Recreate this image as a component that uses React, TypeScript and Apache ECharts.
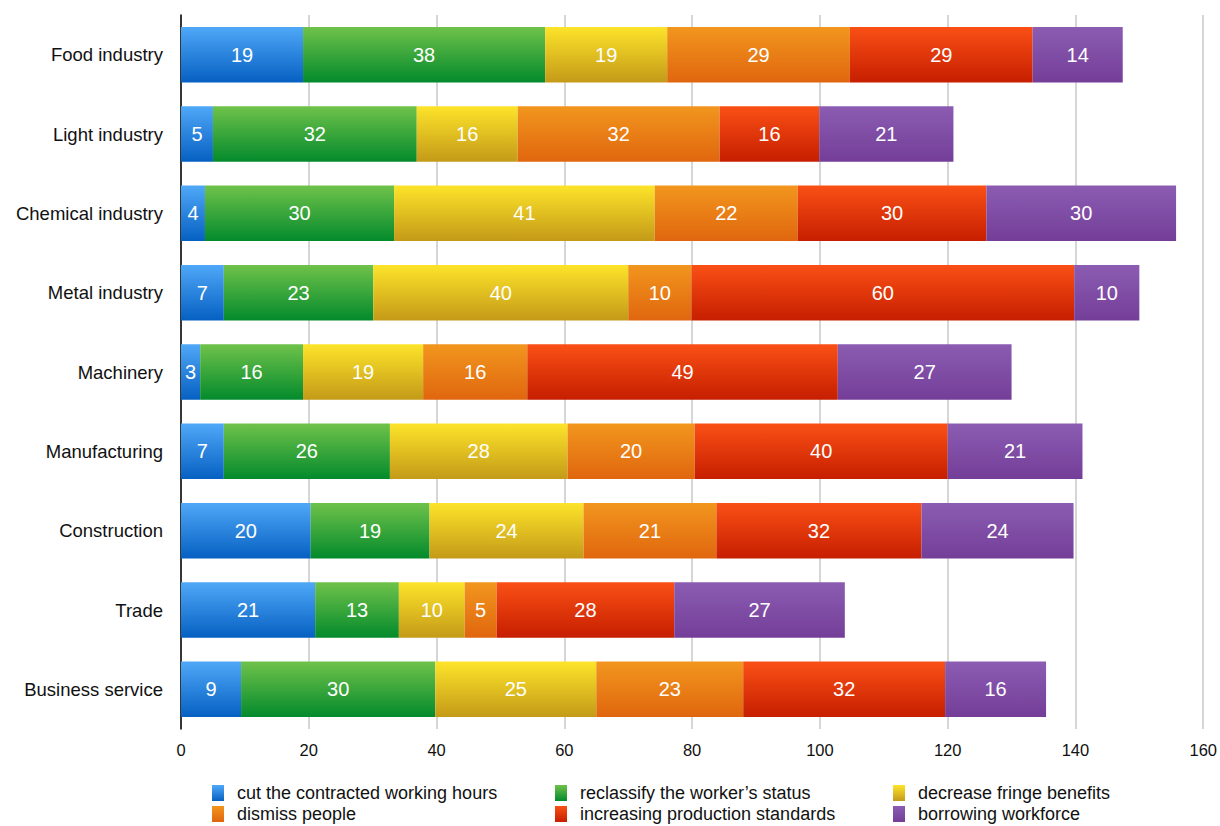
import React, { useEffect, useRef } from "react";
import * as echarts from "echarts";

const categories = [
  "Food industry",
  "Light industry",
  "Chemical industry",
  "Metal industry",
  "Machinery",
  "Manufacturing",
  "Construction",
  "Trade",
  "Business service",
];

const seriesNames = [
  "cut the contracted working hours",
  "reclassify the worker’s status",
  "decrease fringe benefits",
  "dismiss people",
  "increasing production standards",
  "borrowing workforce",
];

// values; labels show them rounded
const cutHours = [19.1, 5.0, 3.75, 6.7, 3.0, 6.7, 20.3, 21.0, 9.4];
const reclassify = [37.9, 31.9, 29.6, 23.4, 16.1, 26.0, 18.6, 13.1, 30.4];
const fringe = [19.1, 15.8, 40.8, 39.9, 18.8, 27.8, 24.1, 10.3, 25.2];
const dismiss = [28.6, 31.6, 22.4, 9.9, 16.3, 19.9, 20.8, 5.0, 23.0];
const standards = [28.6, 15.6, 29.5, 59.9, 48.6, 39.6, 32.1, 27.8, 31.6];
const borrowing = [14.1, 21.0, 29.7, 10.2, 27.2, 21.1, 23.8, 26.7, 15.8];

const seriesValues = [cutHours, reclassify, fringe, dismiss, standards, borrowing];

const gradients: [string, string][] = [
  ["#4fa8f7", "#0660c2"],
  ["#6fc24a", "#038a2c"],
  ["#fde42a", "#c49a18"],
  ["#f2961e", "#e0660e"],
  ["#fa5016", "#c61e00"],
  ["#8b5cb2", "#743e98"],
];

const legendPos = [
  { left: 212, top: 784 },
  { left: 555, top: 784 },
  { left: 893, top: 784 },
  { left: 212, top: 805 },
  { left: 555, top: 805 },
  { left: 893, top: 805 },
];

export default function App() {
  const ref = useRef<HTMLDivElement>(null);
  useEffect(() => {
    if (!ref.current) return;
    const chart = echarts.init(ref.current, undefined, { renderer: "svg" });
    const font = "'Liberation Sans', Arial, Helvetica, sans-serif";
    chart.setOption({
      animation: false,
      textStyle: { fontFamily: font },
      grid: { left: 181, right: 16, top: 15, bottom: 97 },
      legend: seriesNames.map((n, i) => ({
        data: [n],
        left: legendPos[i].left,
        top: legendPos[i].top,
        padding: 0,
        icon: "rect",
        itemWidth: 12,
        itemHeight: 16,
        selectedMode: false,
        textStyle: { fontSize: 18, color: "#111", fontFamily: font, padding: [0, 0, 0, 8] },
      })),
      xAxis: {
        type: "value",
        min: 0,
        max: 160,
        interval: 20,
        axisLine: { show: false },
        axisTick: { show: false },
        axisLabel: { fontSize: 16.5, color: "#111", margin: 12 },
        splitLine: { show: true, lineStyle: { color: "#c8c8c8", width: 1.5 } },
      },
      yAxis: {
        type: "category",
        data: categories,
        inverse: true,
        axisLine: { show: true, lineStyle: { color: "#000", width: 1.5 } },
        axisTick: { show: false },
        axisLabel: { fontSize: 18.5, color: "#111", margin: 18 },
      },
      series: seriesNames.map((n, i) => ({
        name: n,
        type: "bar",
        stack: "total",
        barCategoryGap: "30%",
        data: seriesValues[i],
        itemStyle: {
          color: new echarts.graphic.LinearGradient(0, 0, 0, 1, [
            { offset: 0, color: gradients[i][0] },
            { offset: 1, color: gradients[i][1] },
          ]),
        },
        label: {
          show: true,
          position: "inside",
          color: "#fff",
          fontSize: 20,
          fontFamily: font,
          formatter: (p: any) => String(Math.round(p.value)),
        },
      })),
    });
    return () => chart.dispose();
  }, []);
  return <div ref={ref} style={{ width: 1220, height: 826, position: "absolute", left: 0, top: 0 }} />;
}
